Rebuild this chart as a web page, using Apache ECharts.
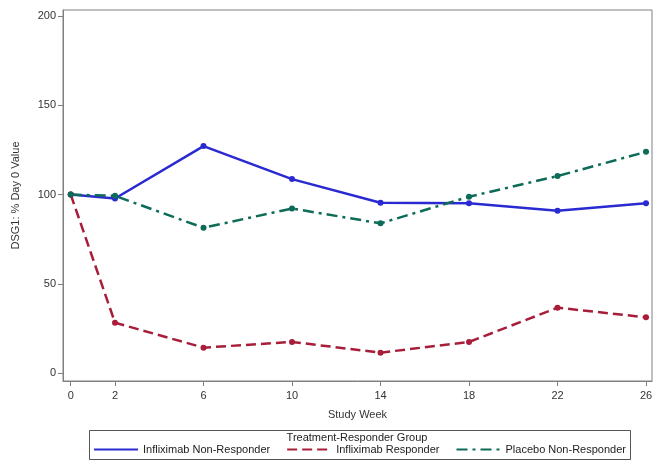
<!DOCTYPE html>
<html>
<head>
<meta charset="utf-8">
<script src="https://cdn.jsdelivr.net/npm/echarts@6/dist/echarts.min.js"></script>
<style>html,body{margin:0;padding:0;background:#fff;}#c{width:664px;height:468px;}</style>
</head>
<body>
<div id="c"></div>
<script>
var weeks = [0, 2, 6, 10, 14, 18, 22, 26];
var xTicks = [0, 2, 6, 10, 14, 18, 22, 26];
var yTicks = [0, 50, 100, 150, 200];
var seriesNames = ['Infliximab Non-Responder', 'Infliximab Responder', 'Placebo Non-Responder'];
var inflixNonResp = [100, 97.8, 127.2, 108.7, 95.4, 95.2, 90.9, 95.2];
var inflixResp = [100, 28.2, 14.2, 17.4, 11.4, 17.4, 36.6, 31.2];
var placeboNonResp = [100, 99.3, 81.4, 92.2, 83.9, 98.8, 110.4, 124.0];

function pairs(vals) { return weeks.map(function (w, i) { return [w, vals[i]]; }); }

var font = 'Liberation Sans, Arial, sans-serif';
var chart = echarts.init(document.getElementById('c'), null, {renderer: 'canvas'});
chart.setOption({
  animation: false,
  backgroundColor: '#fff',
  grid: {left: 63, right: 12, top: 10, bottom: 87, show: true, borderColor: '#808080', borderWidth: 1, containLabel: false},
  xAxis: {
    type: 'value', min: -0.35, max: 26.27,
    name: 'Study Week', nameLocation: 'middle', nameGap: 28,
    nameTextStyle: {fontFamily: font, fontSize: 11, color: '#333'},
    axisLine: {show: true, onZero: false, lineStyle: {color: '#808080', width: 1}},
    axisTick: {show: true, inside: false, length: 5, customValues: xTicks, lineStyle: {color: '#808080'}},
    axisLabel: {customValues: xTicks, fontFamily: font, fontSize: 11, color: '#333', margin: 9},
    splitLine: {show: false}
  },
  yAxis: {
    type: 'value', min: -4.5, max: 203.5,
    name: 'DSG1: % Day 0 Value', nameLocation: 'middle', nameGap: 42,
    nameTextStyle: {fontFamily: font, fontSize: 11, color: '#333'},
    axisLine: {show: true, onZero: false, lineStyle: {color: '#808080', width: 1}},
    axisTick: {show: true, inside: false, length: 5, customValues: yTicks, lineStyle: {color: '#808080'}},
    axisLabel: {customValues: yTicks, fontFamily: font, fontSize: 11, color: '#333', margin: 7},
    splitLine: {show: false}
  },
  title: {
    text: 'Treatment-Responder Group', left: 357, top: 432, textAlign: 'center',
    padding: 0,
    textStyle: {fontFamily: font, fontSize: 11, fontWeight: 'normal', color: '#222'}
  },
  legend: {
    data: seriesNames, left: 93, top: 444, itemWidth: 44, itemHeight: 12, itemGap: 16,
    itemStyle: {opacity: 0},
    textStyle: {fontFamily: font, fontSize: 11, color: '#222'},
    padding: 0
  },
  graphic: [{
    type: 'rect', left: 87, top: 428, shape: {width: 541, height: 29},
    style: {fill: 'none', stroke: '#555', lineWidth: 1}, z: 10, silent: true
  }],
  series: [
    {name: seriesNames[0], type: 'line', data: pairs(inflixNonResp), symbol: 'circle', symbolSize: 6,
      itemStyle: {color: '#2a2ad2'}, lineStyle: {color: '#2a2ad2', width: 2.5, type: 'solid'}},
    {name: seriesNames[1], type: 'line', data: pairs(inflixResp), symbol: 'circle', symbolSize: 6,
      itemStyle: {color: '#a81e3a'}, lineStyle: {color: '#a81e3a', width: 2.5, type: [10, 5]}},
    {name: seriesNames[2], type: 'line', data: pairs(placeboNonResp), symbol: 'circle', symbolSize: 6,
      itemStyle: {color: '#0d6b58'}, lineStyle: {color: '#0d6b58', width: 2.5, type: [11, 5, 3, 5]}}
  ]
});
</script>
</body>
</html>
